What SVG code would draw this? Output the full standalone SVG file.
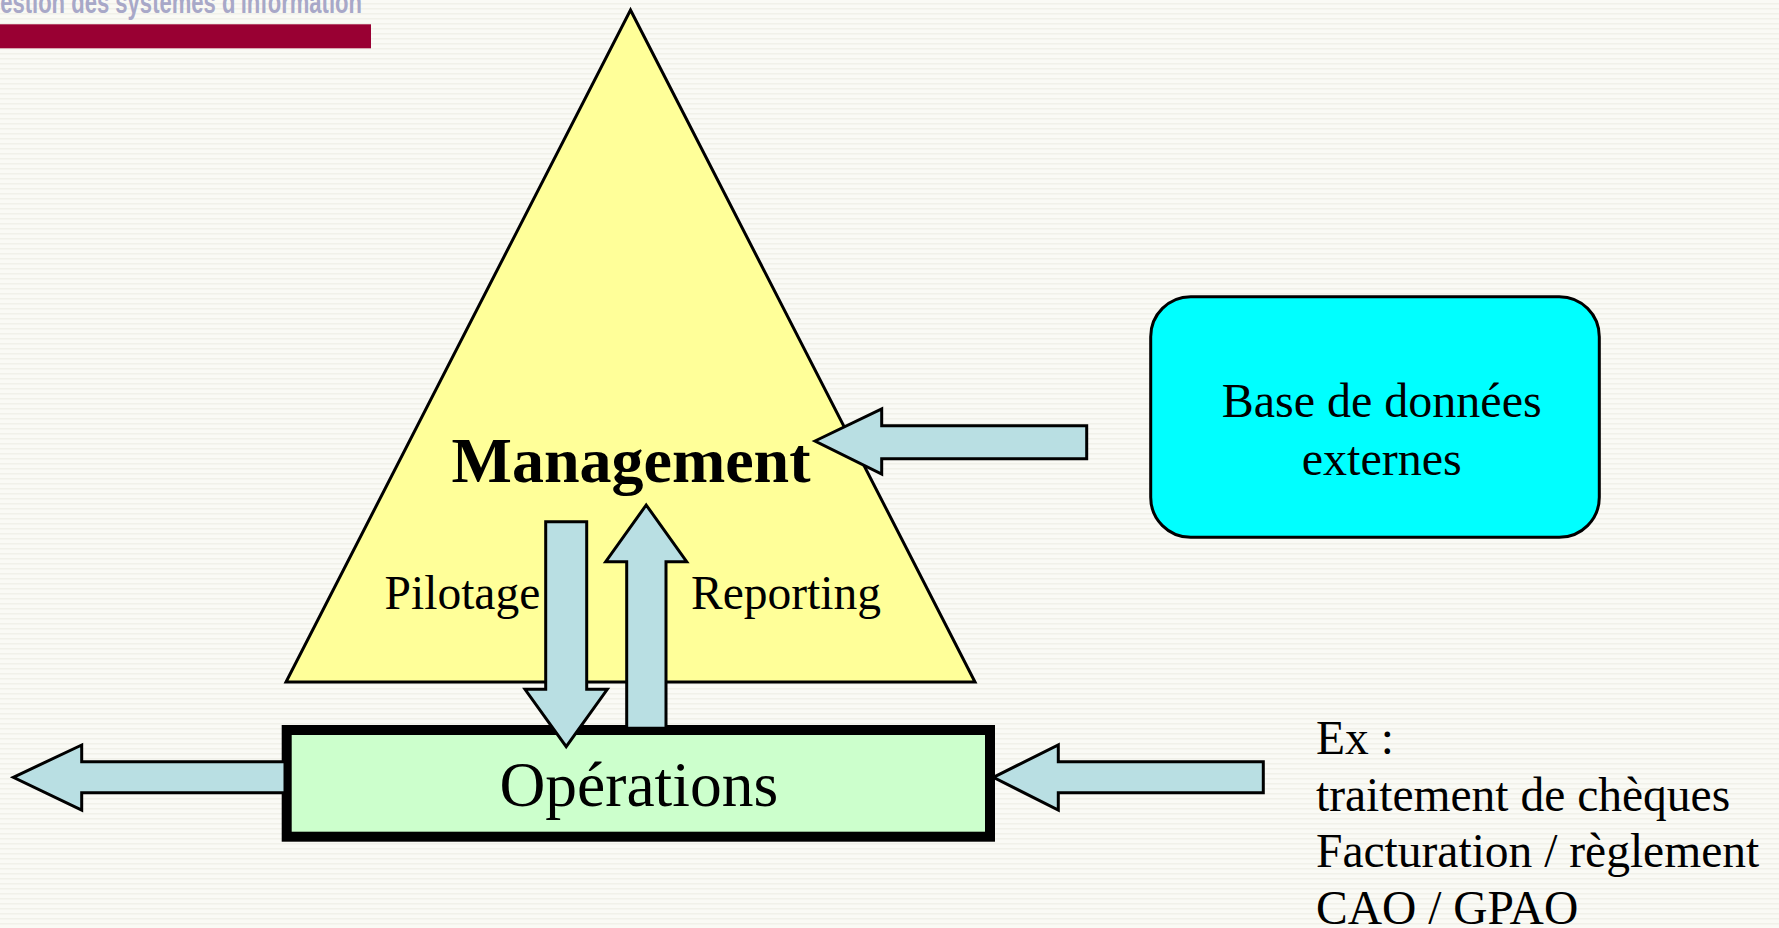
<svg xmlns="http://www.w3.org/2000/svg" width="1779" height="928" viewBox="0 0 1779 928">
  <defs>
    <pattern id="stripes" width="8" height="5" patternUnits="userSpaceOnUse">
      <rect width="8" height="5" fill="#fafaf5"/>
      <rect y="3" width="8" height="1.5" fill="#f1f1e9"/>
    </pattern>
  </defs>
  <style>
    .serif { font-family: "Liberation Serif", "Times New Roman", serif; fill: #000; }
    .arrow { fill: #b9dfe3; stroke: #000; stroke-width: 3; stroke-linejoin: miter; }
    .lbl { font-size: 47.5px; }
  </style>
  <rect width="1779" height="928" fill="url(#stripes)"/>

  <g id="header">
    <text x="-17" y="13" font-family="Liberation Sans, Arial, sans-serif" font-weight="bold" font-size="31" fill="#a8a8c8" textLength="379" lengthAdjust="spacingAndGlyphs">Gestion des systèmes d'information</text>
    <rect x="0" y="24.3" width="371" height="24" fill="#990033"/>
  </g>

  <g id="management">
    <path d="M630.5,10 L975,682 L286,682 Z" fill="#ffff99" stroke="#000" stroke-width="3" stroke-linejoin="miter"/>
    <text class="serif" x="631" y="482" font-size="64" font-weight="bold" text-anchor="middle">Management</text>
  </g>

  <g id="operations">
    <rect x="286.7" y="730" width="703.3" height="106.7" fill="#ccffcc" stroke="#000" stroke-width="10"/>
    <text class="serif" x="638.8" y="805.6" font-size="63.5" text-anchor="middle">Opérations</text>
  </g>

  <g id="database">
    <rect x="1150.7" y="296.7" width="448.6" height="240.6" rx="40" ry="40" fill="#00ffff" stroke="#000" stroke-width="3"/>
    <text class="serif" x="1381.7" y="417.3" font-size="48" text-anchor="middle">Base de données</text>
    <text class="serif" x="1381.7" y="475" font-size="48" text-anchor="middle">externes</text>
  </g>

  <g id="examples">
    <text class="serif" x="1316" y="754" font-size="47.5">Ex :</text>
    <text class="serif" x="1316" y="810.5" font-size="47.5">traitement de chèques</text>
    <text class="serif" x="1316" y="867" font-size="47.5">Facturation / règlement</text>
    <text class="serif" x="1316" y="923.5" font-size="47.5">CAO / GPAO</text>
  </g>

  <g id="connectors">
    <path class="arrow" d="M815,441 L881.7,409 L881.7,425.7 L1086.7,425.7 L1086.7,458.7 L881.7,458.7 L881.7,474 Z"/>
    <path class="arrow" d="M545.7,521.7 L586.7,521.7 L586.7,689.3 L607.3,689.3 L566.2,746.7 L525,689.3 L545.7,689.3 Z"/>
    <path class="arrow" d="M646.2,505 L686.7,561.7 L666,561.7 L666,728.3 L626.7,728.3 L626.7,561.7 L605.7,561.7 Z"/>
    <path class="arrow" d="M13.3,777.3 L81.7,745 L81.7,761.7 L285,761.7 L285,792.7 L81.7,792.7 L81.7,810 Z"/>
    <path class="arrow" d="M993.3,777.3 L1058.3,745 L1058.3,761.7 L1263.3,761.7 L1263.3,792.7 L1058.3,792.7 L1058.3,810 Z"/>
    <text class="serif lbl" x="384.6" y="609">Pilotage</text>
    <text class="serif lbl" x="691" y="609">Reporting</text>
  </g>
</svg>
